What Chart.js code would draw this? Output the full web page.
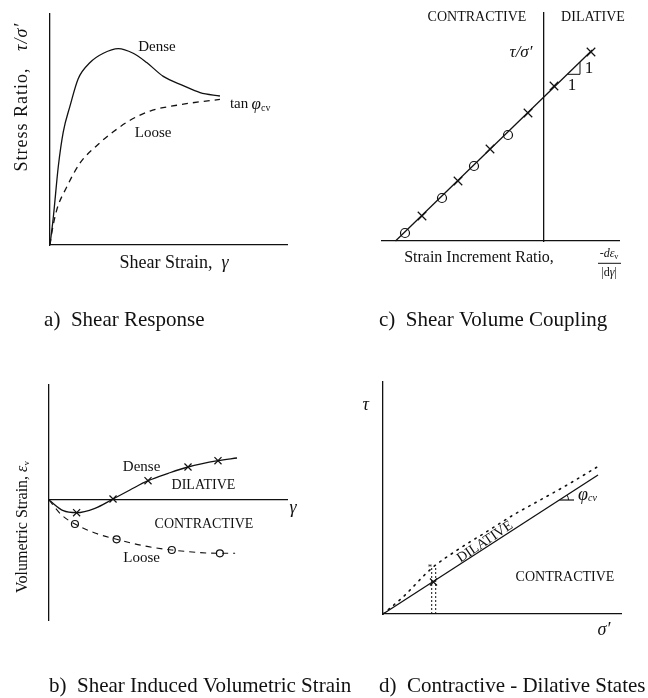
<!DOCTYPE html>
<html>
<head>
<meta charset="utf-8">
<script src="https://cdn.jsdelivr.net/npm/chart.js@4.4.1/dist/chart.umd.min.js"></script>
<style>
  html, body { margin: 0; padding: 0; background: #fff; }
  #page { position: relative; width: 648px; height: 698px; overflow: hidden; }
  canvas { position: absolute; }
</style>
</head>
<body>
<div id="page">
  <canvas id="panelA" width="324" height="340" style="left:0;top:0"></canvas>
  <canvas id="panelC" width="324" height="340" style="left:324px;top:0"></canvas>
  <canvas id="panelB" width="380" height="358" style="left:0;top:340px"></canvas>
  <canvas id="panelD" width="324" height="358" style="left:324px;top:340px"></canvas>
</div>
<script>
// a) shear response : stress ratio vs shear strain
const aDenseX = [0, 0.14, 0.35, 0.56, 0.84, 1.19, 1.69, 2.25, 2.88, 3.51, 4.08, 4.78, 5.62, 6.33, 7.17];
const aDenseY = [0, 0.12, 0.34, 0.49, 0.60, 0.72, 0.79, 0.83, 0.85, 0.83, 0.79, 0.73, 0.69, 0.66, 0.645];
const aLooseX = [0, 0.07, 0.28, 0.70, 1.27, 1.97, 2.67, 3.38, 4.22, 5.35, 6.33, 7.17];
const aLooseY = [0, 0.05, 0.15, 0.25, 0.355, 0.43, 0.49, 0.54, 0.58, 0.605, 0.62, 0.63];

// c) shear volume coupling : stress ratio vs strain increment ratio
const cLineX = [-1.485, 0.483];
const cLineY = [0, 1.91];
const cCircleX = [-1.39, -1.02, -0.70, -0.36];
const cCircleY = [0.08, 0.43, 0.75, 1.06];
const cCrossX = [-1.22, -0.86, -0.54, -0.16, 0.10, 0.47];
const cCrossY = [0.25, 0.60, 0.92, 1.28, 1.55, 1.89];
const cSlopeX = [0.235, 0.36, 0.36];
const cSlopeY = [1.667, 1.667, 1.788];

// b) volumetric strain vs shear strain
const bDenseX = [0, 0.60, 1.16, 1.93, 2.69, 3.40, 4.16, 5.01, 5.84, 7.10, 7.90];
const bDenseY = [0, -0.107, -0.127, -0.083, 0.01, 0.10, 0.193, 0.267, 0.33, 0.393, 0.42];
const bDenseMarkX = [1.16, 2.69, 4.16, 5.84, 7.10];
const bDenseMarkY = [-0.127, 0.01, 0.193, 0.33, 0.393];
const bLooseX = [0, 0.53, 1.09, 1.93, 2.84, 4.03, 5.16, 7.18, 7.82];
const bLooseY = [0, -0.15, -0.24, -0.33, -0.393, -0.46, -0.50, -0.533, -0.533];
const bLooseMarkX = [1.09, 2.84, 5.16, 7.18];
const bLooseMarkY = [-0.24, -0.393, -0.50, -0.533];

// d) contractive - dilative states : tau vs sigma'
const dSolidX = [0, 2.15];
const dSolidY = [0, 1.39];
const dDottedX = [0, 0.203, 0.487, 0.743, 1.037, 1.303, 1.537, 1.87, 2.137];
const dDottedY = [0, 0.173, 0.457, 0.64, 0.823, 0.99, 1.12, 1.307, 1.467];
const dGuideLeftX = [0.487, 0.487];
const dGuideRightX = [0.527, 0.527];
const dGuideY = [0, 0.473];
const dStateX = [0.505];
const dStateY = [0.32];
const dPhiX = [1.765, 1.91];
const dPhiY = [1.14, 1.14];

const INK = '#111';
const SERIF = '"Liberation Serif", "Times New Roman", serif';
const f = (size, style) => `${style || ''} ${size}px ${SERIF}`.trim();

function pts(xs, ys) {
    return xs.map((x, i) => ({ x: x, y: ys[i] }));
}

// draws free text / small marks given in data units of the panel
const notesPlugin = {
    id: 'notes',
    afterDatasetsDraw(chart, args, opts) {
        const ctx = chart.ctx;
        const sx = chart.scales.x, sy = chart.scales.y;
        ctx.save();
        ctx.fillStyle = INK;
        ctx.strokeStyle = INK;
        ctx.textBaseline = 'middle';
        ctx.textAlign = 'left';
        (opts.items || []).forEach(it => {
            const px = sx.getPixelForValue(it.x);
            const py = sy.getPixelForValue(it.y);
            if (it.kind === 'arc') {
                ctx.beginPath();
                ctx.lineWidth = 1;
                ctx.arc(px, py, it.r, it.a0 * Math.PI / 180, it.a1 * Math.PI / 180);
                ctx.stroke();
                return;
            }
            if (it.kind === 'rule') {
                ctx.beginPath();
                ctx.lineWidth = 1;
                ctx.moveTo(px, py);
                ctx.lineTo(sx.getPixelForValue(it.x2), py);
                ctx.stroke();
                return;
            }
            const parts = it.parts || [[it.text, it.font, 0]];
            ctx.save();
            ctx.translate(px, py);
            if (it.rot) ctx.rotate(it.rot * Math.PI / 180);
            ctx.letterSpacing = it.spacing || '0px';
            let w = 0;
            parts.forEach(p => { ctx.font = p[1]; w += ctx.measureText(p[0]).width; });
            let cx = it.align === 'left' ? 0 : -w / 2;
            parts.forEach(p => {
                ctx.font = p[1];
                ctx.fillText(p[0], cx, p[2] || 0);
                cx += ctx.measureText(p[0]).width;
            });
            ctx.restore();
        });
        ctx.restore();
    }
};

function axis(min, max, showLine, position) {
    const a = {
        type: 'linear',
        min: min,
        max: max,
        grid: { display: false },
        border: { display: showLine, color: INK, width: 1.3 },
        ticks: { display: false },
        afterFit(s) {
            if (s.isHorizontal()) s.height = 0; else s.width = 0;
        }
    };
    if (position) a.position = position;
    return a;
}

function line(data, extra) {
    return Object.assign({
        data: data,
        borderColor: INK,
        backgroundColor: INK,
        borderWidth: 1.3,
        pointRadius: 0,
        showLine: true,
        fill: false,
        clip: false
    }, extra || {});
}

function marks(data, style, radius) {
    return {
        data: data,
        showLine: false,
        pointStyle: style,
        pointRadius: radius,
        pointBorderColor: INK,
        pointBackgroundColor: 'rgba(0,0,0,0)',
        pointBorderWidth: 1.2,
        clip: false
    };
}

function makeChart(id, padding, scales, datasets, items) {
    return new Chart(document.getElementById(id), {
        type: 'scatter',
        data: { datasets: datasets },
        options: {
            responsive: false,
            animation: false,
            devicePixelRatio: 1,
            layout: { padding: padding },
            scales: scales,
            plugins: {
                legend: { display: false },
                tooltip: { enabled: false },
                notes: { items: items }
            }
        },
        plugins: [notesPlugin]
    });
}

// panel a
makeChart('panelA', { left: 50, right: 37, top: 14, bottom: 95 },
    { x: axis(0, 10, true, 'bottom'), y: axis(0, 1, true, 'left') },
    [
        line(pts(aDenseX, aDenseY), { cubicInterpolationMode: 'monotone' }),
        line(pts(aLooseX, aLooseY), { cubicInterpolationMode: 'monotone', borderDash: [6, 5] })
    ],
    [
        { x: 4.51, y: 0.857, text: 'Dense', font: f(15) },
        { x: 7.59, y: 0.61, align: 'left', parts: [['tan', f(15), 0], ['\u2009\u03c6', f(17, 'italic'), 0], ['cv', f(10), 4]] },
        { x: 4.35, y: 0.485, text: 'Loose', font: f(15) },
        { x: -1.18, y: 0.64, rot: -90, spacing: '1px', parts: [['Stress Ratio,   ', f(18), 0], ['\u03c4/\u03c3\u2032', f(18, 'italic'), 0]] },
        { x: 5.23, y: -0.078, parts: [['Shear Strain,  ', f(18), 0], ['\u03b3', f(18, 'italic'), 0]] },
        { x: -0.25, y: -0.325, align: 'left', text: 'a)  Shear Response', font: f(21) }
    ]);

// panel c
makeChart('panelC', { left: 58, right: 29, top: 13, bottom: 99 },
    { x: axis(-1.62, 0.75, true, 'bottom'), y: axis(0, 2.28, true, { x: 0 }) },
    [
        line(pts(cLineX, cLineY)),
        line(pts(cSlopeX, cSlopeY), { borderWidth: 1 }),
        marks(pts(cCircleX, cCircleY), 'circle', 4.5),
        marks(pts(cCrossX, cCrossY), 'crossRot', 6)
    ],
    [
        { x: -0.67, y: 2.237, text: 'CONTRACTIVE', font: f(14) },
        { x: 0.49, y: 2.237, text: 'DILATIVE', font: f(14) },
        { x: -0.23, y: 1.887, text: '\u03c4/\u03c3\u2032', font: f(17, 'italic') },
        { x: 0.45, y: 1.727, text: '1', font: f(17) },
        { x: 0.28, y: 1.557, text: '1', font: f(17) },
        { x: -0.65, y: -0.163, text: 'Strain Increment Ratio,', font: f(16) },
        { x: 0.65, y: -0.133, parts: [['-d\u03b5', f(12, 'italic'), 0], ['v', f(8), 3]] },
        { kind: 'rule', x: 0.54, x2: 0.77, y: -0.223 },
        { x: 0.65, y: -0.323, parts: [['|d', f(12), 0], ['\u03b3', f(12, 'italic'), 0], ['|', f(12), 0]] },
        { x: -1.65, y: -0.793, align: 'left', text: 'c)  Shear Volume Coupling', font: f(21) }
    ]);

// panel b
makeChart('panelB', { left: 49, right: 93, top: 45, bottom: 78 },
    { x: axis(0, 10, true, { y: 0 }), y: axis(-1.2, 1.15, true, 'left') },
    [
        line(pts(bDenseX, bDenseY), { cubicInterpolationMode: 'monotone' }),
        line(pts(bLooseX, bLooseY), { cubicInterpolationMode: 'monotone', borderDash: [6, 5], borderWidth: 1.1 }),
        marks(pts(bDenseMarkX, bDenseMarkY), 'crossRot', 5),
        marks(pts(bLooseMarkX, bLooseMarkY), 'circle', 3.5)
    ],
    [
        { x: 3.89, y: 0.333, text: 'Dense', font: f(15) },
        { x: 6.49, y: 0.143, text: 'DILATIVE', font: f(14) },
        { x: 6.51, y: -0.24, text: 'CONTRACTIVE', font: f(14) },
        { x: 3.89, y: -0.58, text: 'Loose', font: f(15) },
        { x: 10.25, y: -0.08, text: '\u03b3', font: f(18, 'italic') },
        { x: -1.09, y: -0.27, rot: -90, parts: [['Volumetric Strain, ', f(16), 0], ['\u03b5', f(16, 'italic'), 0], ['v', f(9), 4]] },
        { x: 0, y: -1.86, align: 'left', text: 'b)  Shear Induced Volumetric Strain', font: f(21) }
    ]);

// panel d
makeChart('panelD', { left: 59, right: 27, top: 42, bottom: 84 },
    { x: axis(0, 2.38, true, 'bottom'), y: axis(0, 2.32, true, 'left') },
    [
        line(pts(dSolidX, dSolidY)),
        line(pts(dDottedX, dDottedY), { borderDash: [1.5, 5.5], borderWidth: 1.6, borderCapStyle: 'round', cubicInterpolationMode: 'monotone' }),
        line(pts(dGuideLeftX, dGuideY), { borderDash: [2, 2], borderWidth: 1 }),
        line(pts(dGuideRightX, dGuideY), { borderDash: [2, 2], borderWidth: 1 }),
        line(pts(dPhiX, dPhiY), { borderWidth: 1.2 }),
        marks(pts(dStateX, dStateY), 'crossRot', 5)
    ],
    [
        { x: -0.173, y: 2.09, text: '\u03c4', font: f(18, 'italic') },
        { x: 2.21, y: -0.16, text: '\u03c3\u2032', font: f(18, 'italic') },
        { x: 1.02, y: 0.72, rot: -34, text: 'DILATIVE', font: f(14) },
        { x: 1.82, y: 0.37, text: 'CONTRACTIVE', font: f(14) },
        { x: 1.95, y: 1.19, align: 'left', parts: [['\u03c6', f(18, 'italic'), 0], ['cv', f(10, 'italic'), 3]] },
        { kind: 'arc', x: 1.765, y: 1.14, r: 9, a0: -33, a1: 0 },
        { x: 0.47, y: 0.46, text: '*', font: f(9) },
        { x: -0.04, y: -0.72, align: 'left', text: 'd)  Contractive - Dilative States', font: f(21) }
    ]);
</script>
</body>
</html>
